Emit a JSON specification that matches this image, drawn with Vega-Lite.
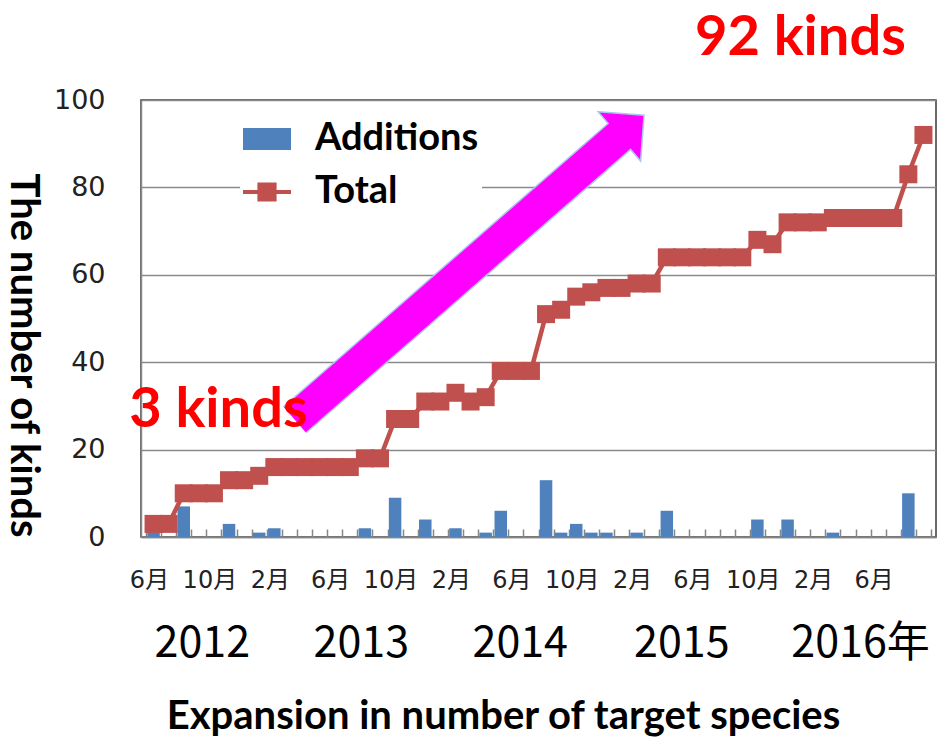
{
  "$schema": "https://vega.github.io/schema/vega-lite/v6.json",
  "width": 795,
  "height": 437,
  "autosize": {"type": "none"},
  "padding": {"left": 141, "top": 100, "right": 5, "bottom": 202},
  "background": "white",
  "config": {"view": {"stroke": "#3a3a3a", "strokeWidth": 1.5}},
  "resolve": {"axis": {"x": "independent"}},
  "datasets": {
    "series": [
      {"i": 0, "month": "2012-06", "total": 3, "add": 3},
      {"i": 1, "month": "2012-07", "total": 3, "add": 0},
      {"i": 2, "month": "2012-08", "total": 10, "add": 7},
      {"i": 3, "month": "2012-09", "total": 10, "add": 0},
      {"i": 4, "month": "2012-10", "total": 10, "add": 0},
      {"i": 5, "month": "2012-11", "total": 13, "add": 3},
      {"i": 6, "month": "2012-12", "total": 13, "add": 0},
      {"i": 7, "month": "2013-01", "total": 14, "add": 1},
      {"i": 8, "month": "2013-02", "total": 16, "add": 2},
      {"i": 9, "month": "2013-03", "total": 16, "add": 0},
      {"i": 10, "month": "2013-04", "total": 16, "add": 0},
      {"i": 11, "month": "2013-05", "total": 16, "add": 0},
      {"i": 12, "month": "2013-06", "total": 16, "add": 0},
      {"i": 13, "month": "2013-07", "total": 16, "add": 0},
      {"i": 14, "month": "2013-08", "total": 18, "add": 2},
      {"i": 15, "month": "2013-09", "total": 18, "add": 0},
      {"i": 16, "month": "2013-10", "total": 27, "add": 9},
      {"i": 17, "month": "2013-11", "total": 27, "add": 0},
      {"i": 18, "month": "2013-12", "total": 31, "add": 4},
      {"i": 19, "month": "2014-01", "total": 31, "add": 0},
      {"i": 20, "month": "2014-02", "total": 33, "add": 2},
      {"i": 21, "month": "2014-03", "total": 31, "add": 0},
      {"i": 22, "month": "2014-04", "total": 32, "add": 1},
      {"i": 23, "month": "2014-05", "total": 38, "add": 6},
      {"i": 24, "month": "2014-06", "total": 38, "add": 0},
      {"i": 25, "month": "2014-07", "total": 38, "add": 0},
      {"i": 26, "month": "2014-08", "total": 51, "add": 13},
      {"i": 27, "month": "2014-09", "total": 52, "add": 1},
      {"i": 28, "month": "2014-10", "total": 55, "add": 3},
      {"i": 29, "month": "2014-11", "total": 56, "add": 1},
      {"i": 30, "month": "2014-12", "total": 57, "add": 1},
      {"i": 31, "month": "2015-01", "total": 57, "add": 0},
      {"i": 32, "month": "2015-02", "total": 58, "add": 1},
      {"i": 33, "month": "2015-03", "total": 58, "add": 0},
      {"i": 34, "month": "2015-04", "total": 64, "add": 6},
      {"i": 35, "month": "2015-05", "total": 64, "add": 0},
      {"i": 36, "month": "2015-06", "total": 64, "add": 0},
      {"i": 37, "month": "2015-07", "total": 64, "add": 0},
      {"i": 38, "month": "2015-08", "total": 64, "add": 0},
      {"i": 39, "month": "2015-09", "total": 64, "add": 0},
      {"i": 40, "month": "2015-10", "total": 68, "add": 4},
      {"i": 41, "month": "2015-11", "total": 67, "add": 0},
      {"i": 42, "month": "2015-12", "total": 72, "add": 4},
      {"i": 43, "month": "2016-01", "total": 72, "add": 0},
      {"i": 44, "month": "2016-02", "total": 72, "add": 0},
      {"i": 45, "month": "2016-03", "total": 73, "add": 1},
      {"i": 46, "month": "2016-04", "total": 73, "add": 0},
      {"i": 47, "month": "2016-05", "total": 73, "add": 0},
      {"i": 48, "month": "2016-06", "total": 73, "add": 0},
      {"i": 49, "month": "2016-07", "total": 73, "add": 0},
      {"i": 50, "month": "2016-08", "total": 83, "add": 10},
      {"i": 51, "month": "2016-09", "total": 92, "add": 0}
    ],
    "arrow": [
      {"x0": 9.36, "y0": 26.84, "x1": 31.03, "y1": 92.2, "hx": 30.86, "hy": 91.65}
    ],
    "notes": [
      {"xi": 4.3, "yv": 25.2, "text": "3 kinds"},
      {"xi": 42.85, "yv": 110.3, "text": "92 kinds"}
    ],
    "years": [
      {"xi": 0.07, "yv": -27.5, "text": "2012"},
      {"xi": 10.6, "yv": -27.5, "text": "2013"},
      {"xi": 21.13, "yv": -27.5, "text": "2014"},
      {"xi": 31.83, "yv": -27.5, "text": "2015"},
      {"xi": 42.25, "yv": -27.5, "text": "2016年"}
    ]
  },
  "layer": [
    {
      "data": {"name": "series"},
      "mark": {"type": "bar", "size": 12.5},
      "encoding": {
        "x": {
          "field": "i", "type": "quantitative",
          "scale": {"domain": [-0.5, 51.5], "nice": false, "zero": false},
          "axis": {
            "values": [-0.5, 3.5, 7.5, 11.5, 15.5, 19.5, 23.5, 27.5, 31.5, 35.5, 39.5, 43.5, 47.5],
            "labelExpr": "((datum.value + 5.5) % 12 + 1) + '月'",
            "labelFlush": false,
            "labelOverlap": false,
            "labelOffset": 3,
            "labelFont": "DejaVu Sans, Noto Sans CJK JP",
            "labelFontSize": 24,
            "labelColor": "#222222",
            "labelBaseline": "middle",
            "labelPadding": 43,
            "ticks": false,
            "tickSize": 0,
            "domainColor": "#868686",
            "domainWidth": 1.5,
            "grid": false,
            "title": "Expansion in number of target species",
            "titleFont": "Lato",
            "titleFontSize": 40,
            "titleFontWeight": "bold",
            "titleColor": "black",
            "titleX": 362,
            "titleY": 191,
            "titleAlign": "center",
            "titleBaseline": "alphabetic"
          }
        },
        "y": {
          "field": "add", "type": "quantitative",
          "scale": {"domain": [0, 100], "nice": false},
          "axis": {
            "values": [0, 20, 40, 60, 80, 100],
            "grid": true,
            "gridColor": "#8a8a8a",
            "gridWidth": 1.5,
            "domainColor": "#8a8a8a",
            "domainWidth": 1.5,
            "ticks": false,
            "tickSize": 0,
            "labelPadding": 36,
            "labelFont": "DejaVu Sans",
            "labelFontSize": 27,
            "labelColor": "#222222",
            "title": "The number of kinds",
            "titleAngle": 90,
            "titleX": -119,
            "titleY": 255,
            "titleAlign": "center",
            "titleBaseline": "middle",
            "titleFont": "Lato",
            "titleFontSize": 40,
            "titleFontWeight": "bold",
            "titleColor": "black"
          }
        },
        "color": {
          "datum": "Additions",
          "type": "nominal",
          "scale": {"domain": ["Additions", "Total"], "range": ["#4F81BD", "#C0504D"]},
          "legend": {
            "title": null,
            "orient": "none",
            "legendX": 99,
            "legendY": 12,
            "direction": "vertical",
            "fillColor": "white",
            "padding": 3,
            "symbolSize": 2304,
            "symbolType": "square",
            "labelFont": "Lato",
            "labelFontSize": 38,
            "labelFontWeight": "bold",
            "labelColor": "black",
            "labelOffset": 24,
            "labelLimit": 400,
            "rowPadding": 10,
            "encode": {
              "symbols": {
                "update": {
                  "shape": {"signal": "datum.value === 'Additions' ? 'M-1,-0.46H1V0.46H-1Z' : 'M-1,-0.08H1V0.08H-1ZM-0.4,-0.4H0.4V0.4H-0.4Z'"},
                  "fill": {"signal": "datum.value === 'Additions' ? '#4F81BD' : '#C0504D'"},
                  "stroke": {"value": "transparent"},
                  "strokeWidth": {"value": 0},
                  "opacity": {"value": 1},
                  "fillOpacity": {"value": 1}
                }
              }
            }
          }
        }
      }
    },
    {
      "data": {"name": "series"},
      "mark": {"type": "line", "color": "#C0504D", "strokeWidth": 4.5},
      "encoding": {
        "x": {
          "field": "i", "type": "quantitative",
          "scale": {"domain": [-0.5, 51.5], "nice": false, "zero": false},
          "axis": {
            "orient": "top",
            "offset": -437,
            "values": [-0.5, 0.5, 1.5, 2.5, 3.5, 4.5, 5.5, 6.5, 7.5, 8.5, 9.5, 10.5, 11.5, 12.5, 13.5, 14.5, 15.5, 16.5, 17.5, 18.5, 19.5, 20.5, 21.5, 22.5, 23.5, 24.5, 25.5, 26.5, 27.5, 28.5, 29.5, 30.5, 31.5, 32.5, 33.5, 34.5, 35.5, 36.5, 37.5, 38.5, 39.5, 40.5, 41.5, 42.5, 43.5, 44.5, 45.5, 46.5, 47.5, 48.5, 49.5, 50.5, 51.5],
            "labels": false,
            "domain": false,
            "grid": false,
            "ticks": true,
            "tickSize": 8,
            "tickColor": "#868686",
            "tickWidth": 1.5,
            "title": null
          }
        },
        "y": {"field": "total", "type": "quantitative", "scale": {"domain": [0, 100], "nice": false}}
      }
    },
    {
      "data": {"name": "series"},
      "mark": {"type": "point", "shape": "square", "filled": true, "size": 324, "color": "#C0504D", "opacity": 1},
      "encoding": {
        "x": {"field": "i", "type": "quantitative", "scale": {"domain": [-0.5, 51.5], "nice": false, "zero": false}, "axis": null},
        "y": {"field": "total", "type": "quantitative", "scale": {"domain": [0, 100], "nice": false}}
      }
    },
    {
      "data": {"name": "arrow"},
      "mark": {"type": "rule", "color": "#A9C8EC", "strokeWidth": 36, "strokeCap": "butt"},
      "encoding": {
        "x": {"field": "x0", "type": "quantitative", "scale": {"domain": [-0.5, 51.5], "nice": false, "zero": false}, "axis": null},
        "y": {"field": "y0", "type": "quantitative", "scale": {"domain": [0, 100], "nice": false}},
        "x2": {"field": "hx"},
        "y2": {"field": "hy"}
      }
    },
    {
      "data": {"name": "arrow"},
      "mark": {"type": "point", "shape": "M-1,0L0,-1L1,0Z", "size": 4225, "angle": 49.26, "filled": true, "color": "#FF00FF", "fill": "#FF00FF", "stroke": "#A9C8EC", "strokeWidth": 1.5, "opacity": 1},
      "encoding": {
        "x": {"field": "hx", "type": "quantitative", "scale": {"domain": [-0.5, 51.5], "nice": false, "zero": false}, "axis": null},
        "y": {"field": "hy", "type": "quantitative", "scale": {"domain": [0, 100], "nice": false}}
      }
    },
    {
      "data": {"name": "arrow"},
      "mark": {"type": "rule", "color": "#FF00FF", "strokeWidth": 33, "strokeCap": "butt"},
      "encoding": {
        "x": {"field": "x0", "type": "quantitative", "scale": {"domain": [-0.5, 51.5], "nice": false, "zero": false}, "axis": null},
        "y": {"field": "y0", "type": "quantitative", "scale": {"domain": [0, 100], "nice": false}},
        "x2": {"field": "x1"},
        "y2": {"field": "y1"}
      }
    },
    {
      "data": {"name": "notes"},
      "mark": {"type": "text", "font": "Lato", "fontSize": 56, "fontWeight": "bold", "color": "#FF0000", "align": "center", "baseline": "alphabetic"},
      "encoding": {
        "x": {"field": "xi", "type": "quantitative", "scale": {"domain": [-0.5, 51.5], "nice": false, "zero": false}, "axis": null},
        "y": {"field": "yv", "type": "quantitative", "scale": {"domain": [0, 100], "nice": false}},
        "text": {"field": "text"}
      }
    },
    {
      "data": {"name": "years"},
      "mark": {"type": "text", "font": "Noto Sans CJK JP", "fontSize": 43, "color": "black", "align": "left", "baseline": "alphabetic"},
      "encoding": {
        "x": {"field": "xi", "type": "quantitative", "scale": {"domain": [-0.5, 51.5], "nice": false, "zero": false}, "axis": null},
        "y": {"field": "yv", "type": "quantitative", "scale": {"domain": [0, 100], "nice": false}},
        "text": {"field": "text"}
      }
    }
  ]
}
